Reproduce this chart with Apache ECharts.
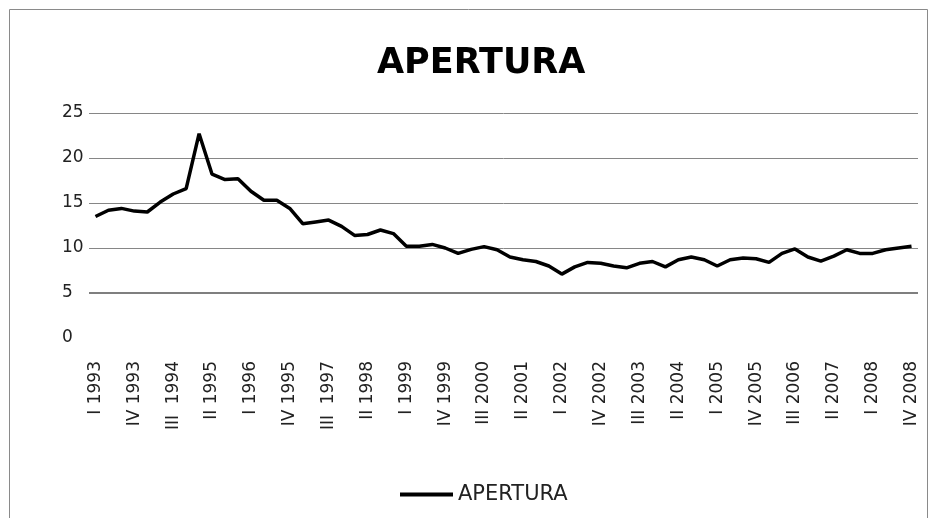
<!DOCTYPE html>
<html>
<head>
<meta charset="utf-8">
<script src="https://cdn.jsdelivr.net/npm/echarts@6/dist/echarts.min.js"></script>
<style>
    html, body { margin: 0; padding: 0; background: #fff; }
    #apertura_con { width: 931px; height: 518px; }
</style>
</head>
<body>
<div id="apertura_con"></div>
<script>
// quarters as written on the original sheet (typos kept as shown)
const quarters = [
    'I 1993', 'II 1993', 'III 1993', 'IV 1993',
    'I 1994', 'II 1994', 'III  1994', 'IV 1994',
    'I 1995', 'II 1995', 'III 1995', 'IV 1995',
    'I 1996', 'II 1996', 'III 1996', 'IV 1995',
    'I 1997', 'II 1997', 'III  1997', 'IV 1997',
    'I 1998', 'II 1998', 'III 1998', 'IV 1998',
    'I 1999', 'II 1999', 'III 1999', 'IV 1999',
    'I 2000', 'II 2000', 'III 2000', 'IV 2000',
    'I 2001', 'II 2001', 'III 2001', 'IV 2001',
    'I 2002', 'II 2002', 'III 2002', 'IV 2002',
    'I 2003', 'II 2003', 'III 2003', 'IV 2003',
    'I 2004', 'II 2004', 'III 2004', 'IV 2004',
    'I 2005', 'II 2005', 'III 2005', 'IV 2005',
    'I 2006', 'II 2006', 'III 2006', 'IV 2006',
    'I 2007', 'II 2007', 'III 2007', 'IV 2007',
    'I 2008', 'II 2008', 'III 2008', 'IV 2008'
];

const apertura = [
    13.5, 14.2, 14.4, 14.1, 14.0, 15.1, 16.0, 16.6, 22.7, 18.2,
    17.6, 17.7, 16.3, 15.3, 15.3, 14.4, 12.7, 12.9, 13.1, 12.4,
    11.4, 11.5, 12.0, 11.6, 10.2, 10.2, 10.4, 10.0, 9.4, 9.85,
    10.15, 9.8, 9.0, 8.7, 8.5, 8.0, 7.1, 7.9, 8.4, 8.3,
    8.0, 7.8, 8.3, 8.5, 7.9, 8.7, 9.0, 8.7, 8.0, 8.7,
    8.9, 8.8, 8.4, 9.4, 9.9, 9.0, 8.55, 9.1, 9.8, 9.4,
    9.4, 9.8, 10.0, 10.2
];

const yTicks = { min: 0, max: 25, step: 5 };
const axisCross = 5;

const chart = echarts.init(document.getElementById('apertura_con'));

const option = {
    backgroundColor: '#fff',
    animation: false,
    title: {
        text: 'APERTURA',
        left: 372,
        top: 41,
        textStyle: {
            fontFamily: 'DejaVu Sans',
            fontWeight: 'bold',
            fontSize: 35,
            color: '#000'
        }
    },
    legend: {
        left: 395,
        top: 479,
        icon: 'rect',
        itemWidth: 53,
        itemHeight: 4,
        itemGap: 5,
        textStyle: {
            fontFamily: 'DejaVu Sans',
            fontSize: 21,
            color: '#222'
        },
        data: ['APERTURA']
    },
    grid: {
        left: 89,
        right: 13,
        top: 113,
        bottom: 180
    },
    xAxis: {
        type: 'category',
        boundaryGap: true,
        data: quarters,
        axisLine: { show: false },
        axisTick: { show: false },
        axisLabel: {
            interval: 2,
            rotate: 90,
            margin: 23,
            fontFamily: 'DejaVu Sans',
            fontSize: 17,
            color: '#222'
        }
    },
    yAxis: {
        type: 'value',
        min: yTicks.min,
        max: yTicks.max,
        interval: yTicks.step,
        axisLine: { show: false },
        axisTick: { show: false },
        axisLabel: {
            align: 'left',
            margin: 27,
            fontFamily: 'DejaVu Sans',
            fontSize: 17,
            color: '#222'
        },
        splitLine: {
            lineStyle: {
                color: ['rgba(0,0,0,0)', '#868686', '#868686', '#868686', '#868686', '#868686'],
                width: 1
            }
        }
    },
    graphic: [
        {
            type: 'rect',
            shape: { x: 9.5, y: 9.5, width: 918, height: 530 },
            style: { fill: 'none', stroke: '#8a8a8a', lineWidth: 1 },
            silent: true
        }
    ],
    series: [
        {
            name: 'APERTURA',
            type: 'line',
            data: apertura,
            symbol: 'none',
            lineStyle: { color: '#000', width: 3.5 },
            itemStyle: { color: '#000' },
            markLine: {
                silent: true,
                symbol: 'none',
                label: { show: false },
                lineStyle: { color: '#7f7f7f', width: 2, type: 'solid' },
                data: [{ yAxis: axisCross }]
            }
        }
    ]
};

chart.setOption(option);
</script>
</body>
</html>
